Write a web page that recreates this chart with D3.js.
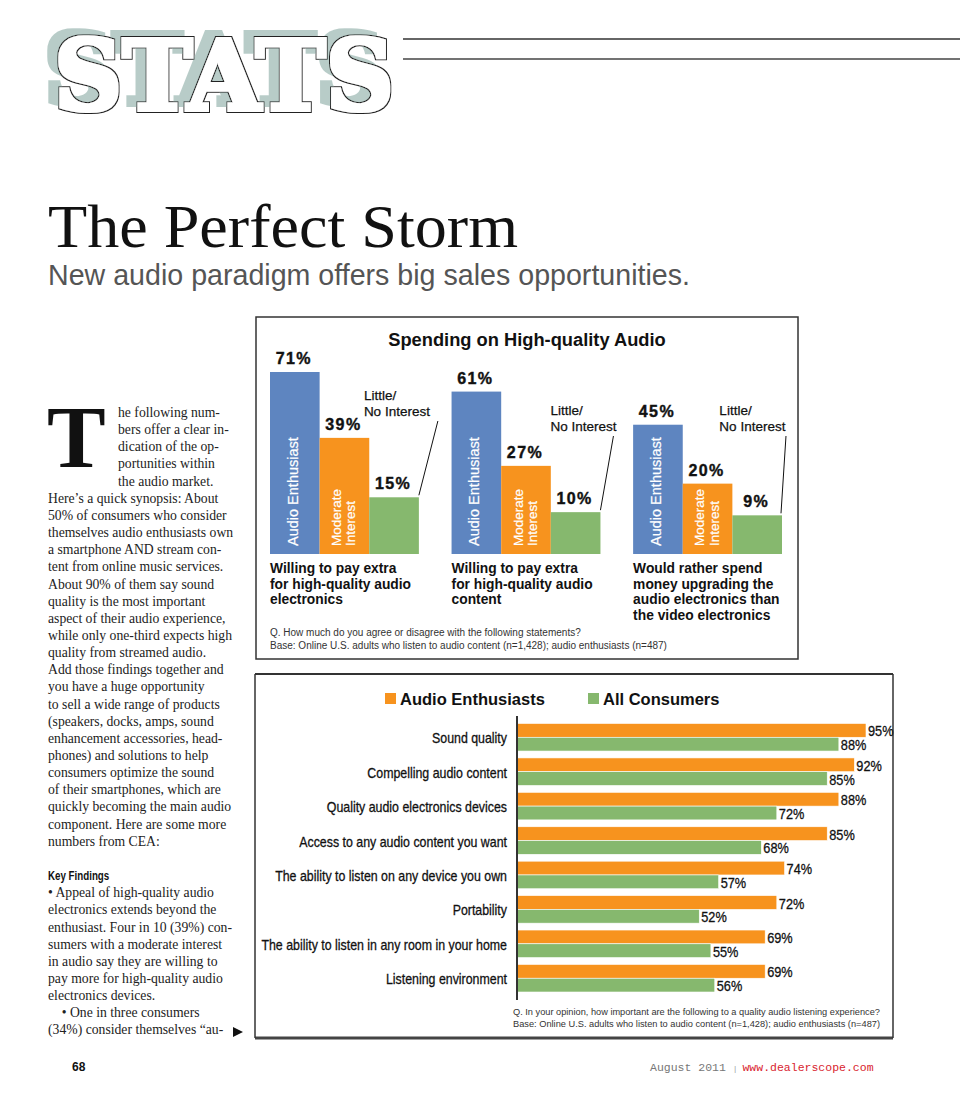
<!DOCTYPE html>
<html><head><meta charset="utf-8">
<script src="https://cdn.jsdelivr.net/npm/d3@7"></script>
<style>
html,body{margin:0;padding:0;background:#fff;}
svg{display:block;}
</style></head>
<body>
<script>
// ---------- DATA ----------
const topGroups = ["Willing to pay extra|for high-quality audio|electronics",
                   "Willing to pay extra|for high-quality audio|content",
                   "Would rather spend|money upgrading the|audio electronics than|the video electronics"];
const topSeries = ["Audio Enthusiast", "Moderate|Interest", "Little/No Interest"];
const enthusiastVals = [71, 61, 45];
const moderateVals = [39, 27, 20];
const littleVals = [15, 10, 9];

const importanceCats = ["Sound quality", "Compelling audio content", "Quality audio electronics devices",
  "Access to any audio content you want", "The ability to listen on any device you own", "Portability",
  "The ability to listen in any room in your home", "Listening environment"];
const audioEnthusiasts = [95, 92, 88, 85, 74, 72, 69, 69];
const allConsumers = [88, 85, 72, 68, 57, 52, 55, 56];
const legendLabels = ["Audio Enthusiasts", "All Consumers"];

const bodyLines = [
 "he following num-", "bers offer a clear in-", "dication of the op-", "portunities within", "the audio market.",
 "Here\u2019s a quick synopsis: About", "50% of consumers who consider", "themselves audio enthusiasts own",
 "a smartphone AND stream con-", "tent from online music services.", "About 90% of them say sound",
 "quality is the most important", "aspect of their audio experience,", "while only one-third expects high",
 "quality from streamed audio.", "Add those findings together and", "you have a huge opportunity",
 "to sell a wide range of products", "(speakers, docks, amps, sound", "enhancement accessories, head-",
 "phones) and solutions to help", "consumers optimize the sound", "of their smartphones, which are",
 "quickly becoming the main audio", "component. Here are some more", "numbers from CEA:", "",
 "Key Findings", "\u2022 Appeal of high-quality audio", "electronics extends beyond the",
 "enthusiast. Four in 10 (39%) con-", "sumers with a moderate interest", "in audio say they are willing to",
 "pay more for high-quality audio", "electronics devices.", "\u2003\u2022 One in three consumers",
 "(34%) consider themselves \u201Cau-"];

// ---------- PAGE ----------
const W = 960, H = 1097;
const svg = d3.select("body").append("svg").attr("width", W).attr("height", H);
svg.append("rect").attr("width", W).attr("height", H).attr("fill", "#fff");

const BLUE = "#5e85c0", ORANGE = "#f7931e", GREEN = "#86b86e";
const SANS = "'Liberation Sans',Arial,sans-serif";
function condense(sel, f) {
  sel.each(function () {
    const l = this.getComputedTextLength();
    d3.select(this).attr("textLength", l * f).attr("lengthAdjust", "spacingAndGlyphs");
  });
  return sel;
}

// Header STATS (single text; shadow + outline built by a filter)
const defs = svg.append("defs");
const flt = defs.append("filter").attr("id", "stats").attr("x", "-10%").attr("y", "-20%")
  .attr("width", "120%").attr("height", "140%");
flt.append("feMorphology").attr("in", "SourceAlpha").attr("operator", "dilate").attr("radius", 3.3).attr("result", "fatB");
flt.append("feMorphology").attr("in", "SourceAlpha").attr("operator", "dilate").attr("radius", 2.1).attr("result", "fatW");
flt.append("feOffset").attr("in", "fatB").attr("dx", -10).attr("dy", -6).attr("result", "shOff");
flt.append("feFlood").attr("flood-color", "#b8ccc8").attr("result", "shCol");
flt.append("feComposite").attr("in", "shCol").attr("in2", "shOff").attr("operator", "in").attr("result", "shadow");
flt.append("feFlood").attr("flood-color", "#222").attr("result", "bCol");
flt.append("feComposite").attr("in", "bCol").attr("in2", "fatB").attr("operator", "in").attr("result", "black");
flt.append("feFlood").attr("flood-color", "#fff").attr("result", "wCol");
flt.append("feComposite").attr("in", "wCol").attr("in2", "fatW").attr("operator", "in").attr("result", "white");
const mg = flt.append("feMerge");
mg.append("feMergeNode").attr("in", "shadow");
mg.append("feMergeNode").attr("in", "black");
mg.append("feMergeNode").attr("in", "white");
svg.append("text").attr("x", 54).attr("y", 110).text("STATS")
  .attr("font-family", "'DejaVu Serif',serif").attr("font-weight", "bold").attr("font-size", 98)
  .attr("textLength", 340).attr("lengthAdjust", "spacingAndGlyphs").attr("fill", "#000")
  .attr("filter", "url(#stats)");
svg.append("line").attr("x1", 403).attr("x2", 960).attr("y1", 39).attr("y2", 39).attr("stroke", "#333").attr("stroke-width", 1.3);
svg.append("line").attr("x1", 403).attr("x2", 960).attr("y1", 59).attr("y2", 59).attr("stroke", "#444").attr("stroke-width", 1.3);

// Title
svg.append("text").attr("x", 48).attr("y", 247).text("The Perfect Storm")
  .attr("font-family", "'Liberation Serif',serif").attr("font-size", 62).attr("fill", "#111")
  .attr("textLength", 470).attr("lengthAdjust", "spacingAndGlyphs");
svg.append("text").attr("x", 48).attr("y", 285).text("New audio paradigm offers big sales opportunities.")
  .attr("font-family", SANS).attr("font-size", 29).attr("fill", "#555")
  .attr("textLength", 642).attr("lengthAdjust", "spacingAndGlyphs");

// Body text
const body = svg.append("g").attr("font-family", "'Liberation Serif',serif").attr("font-size", 13.7).attr("fill", "#222");
body.append("text").attr("x", 47).attr("y", 467).text("T").attr("font-size", 88).attr("font-weight", "bold")
  .attr("fill", "#111");
bodyLines.forEach((t, i) => {
  const y = 417 + i * 17.15;
  const x = i < 5 ? 118 : 48;
  if (t === "Key Findings") {
    body.append("text").attr("x", x).attr("y", y).text(t)
      .attr("font-family", SANS).attr("font-weight", "bold").attr("font-size", 12.5).attr("fill", "#111")
      .call(condense, 0.78);
  } else {
    body.append("text").attr("x", x).attr("y", y).text(t).attr("xml:space", "preserve");
  }
});
svg.append("path").attr("d", "M233,1027 L243,1032 L233,1037 Z").attr("fill", "#111");

// Footer
svg.append("text").attr("x", 72).attr("y", 1071).text("68").attr("font-family", SANS)
  .attr("font-weight", "bold").attr("font-size", 12).attr("fill", "#111");
const foot = svg.append("text").attr("x", 650).attr("y", 1071).attr("font-family", "'Liberation Mono',monospace").attr("font-size", 11.5);
foot.append("tspan").text("August 2011 ").attr("fill", "#777");
foot.append("tspan").text("| ").attr("fill", "#999").attr("font-size", 8);
foot.append("tspan").text("www.dealerscope.com").attr("fill", "#d9232e");

// ---------- TOP CHART ----------
svg.append("rect").attr("x", 256).attr("y", 317).attr("width", 542).attr("height", 342)
  .attr("fill", "none").attr("stroke", "#333").attr("stroke-width", 1.5);
svg.append("text").attr("x", 527).attr("y", 346).attr("text-anchor", "middle").text("Spending on High-quality Audio")
  .attr("font-family", SANS).attr("font-weight", "bold").attr("font-size", 18.3).attr("fill", "#111");

const gx = d3.scaleBand().domain(topGroups).range([270, 782]).paddingInner(0.18);
const sx = d3.scaleBand().domain(topSeries).range([0, gx.bandwidth()]);
const hTop = d3.scalePow().exponent(0.75).domain([0, 71]).range([0, 182]);
const BASE = 554;
const topColors = [BLUE, ORANGE, GREEN];
const seriesVals = [enthusiastVals, moderateVals, littleVals];

topGroups.forEach((g, gi) => {
  const gg = svg.append("g").attr("transform", `translate(${gx(g)},0)`);
  topSeries.forEach((s, si) => {
    const v = seriesVals[si][gi];
    const x = sx(s), w = sx.bandwidth();
    const top = BASE - hTop(v);
    gg.append("rect").attr("x", x).attr("y", top).attr("width", w).attr("height", hTop(v)).attr("fill", topColors[si]);
    gg.append("text").attr("x", x + w / 2 - 1).attr("y", top - 8).attr("text-anchor", "middle").text(v + "%")
      .attr("font-family", SANS).attr("font-weight", "bold").attr("font-size", 16)
      .attr("letter-spacing", 1.4).attr("fill", "#111").attr("stroke", "#111").attr("stroke-width", 0.4);
    if (si < 2) {
      const lines = s.split("|");
      lines.forEach((ln, li) => {
        const bx = x + w / 2 + (lines.length === 1 ? 3 : (li === 0 ? -3.5 : 11));
        gg.append("text").attr("transform", `translate(${bx},${BASE - 8}) rotate(-90)`).text(ln)
          .attr("font-family", SANS).attr("font-size", lines.length === 1 ? 14.5 : 13.5).attr("fill", "#fff")
          .attr("stroke", "#fff").attr("stroke-width", 0.2);
      });
    } else {
      const tx = gi === 2 ? x - 13 : (gi === 0 ? x + w - 55 : x + w - 50);
      const ty = gi === 0 ? 400 : 415;
      const ann = gg.append("text").attr("font-family", SANS).attr("font-size", 13.5).attr("fill", "#111")
        .attr("stroke", "#111").attr("stroke-width", 0.25);
      ann.append("tspan").attr("x", tx).attr("y", ty).text("Little/");
      ann.append("tspan").attr("x", tx).attr("y", ty + 16).text("No Interest");
      const lx1 = gi === 0 ? x + w + 19 : (gi === 1 ? x + w + 13 : x + w + 4);
      gg.append("line").attr("x1", lx1).attr("y1", ty + 21).attr("x2", x + w - (gi === 2 ? 1 : 0)).attr("y2", top - 2)
        .attr("stroke", "#111").attr("stroke-width", 1);
    }
  });
  const lines = g.split("|");
  lines.forEach((ln, li) => {
    gg.append("text").attr("x", 0).attr("y", 573 + li * 15.5).text(ln)
      .attr("font-family", SANS).attr("font-weight", "bold").attr("font-size", 13.8).attr("fill", "#111");
  });
});
const tf = svg.append("g").attr("font-family", SANS).attr("font-size", 10).attr("fill", "#333");
tf.append("text").attr("x", 270).attr("y", 636).text("Q. How much do you agree or disagree with the following statements?");
tf.append("text").attr("x", 270).attr("y", 649).text("Base: Online U.S. adults who listen to audio content (n=1,428); audio enthusiasts (n=487)");

// ---------- BOTTOM CHART ----------
svg.append("line").attr("x1", 255).attr("x2", 893).attr("y1", 674).attr("y2", 674).attr("stroke", "#333").attr("stroke-width", 2);
svg.append("line").attr("x1", 255).attr("x2", 893).attr("y1", 1038).attr("y2", 1038).attr("stroke", "#444").attr("stroke-width", 3);
svg.append("line").attr("x1", 255).attr("x2", 255).attr("y1", 674).attr("y2", 1038).attr("stroke", "#333").attr("stroke-width", 1.5);
svg.append("line").attr("x1", 893).attr("x2", 893).attr("y1", 674).attr("y2", 1038).attr("stroke", "#333").attr("stroke-width", 1.5);

const leg = svg.append("g").attr("font-family", SANS).attr("font-weight", "bold").attr("font-size", 16.5).attr("fill", "#111");
[[385, ORANGE], [588, GREEN]].forEach(([lx, c], i) => {
  leg.append("rect").attr("x", lx).attr("y", 693).attr("width", 11).attr("height", 11).attr("fill", c);
  leg.append("text").attr("x", lx + 15).attr("y", 704.5).text(legendLabels[i]);
});

const yb = d3.scaleBand().domain(importanceCats).range([723.5, 992]).paddingInner(0.2);
const xb = d3.scaleLinear().domain([5, 95]).range([517, 866]);
const half = yb.bandwidth() / 2;
importanceCats.forEach((c, i) => {
  const y0 = yb(c);
  [[audioEnthusiasts[i], ORANGE, 0], [allConsumers[i], GREEN, half]].forEach(([v, col, off]) => {
    svg.append("rect").attr("x", xb(5)).attr("y", y0 + off).attr("width", xb(v) - xb(5)).attr("height", half)
      .attr("fill", col).attr("stroke", "#fff").attr("stroke-width", 0.6);
    svg.append("text").attr("x", xb(v) + 2).attr("y", y0 + off + half / 2 + 6).text(v + "%")
      .attr("font-family", SANS).attr("font-size", 15).attr("fill", "#111")
      .attr("stroke", "#111").attr("stroke-width", 0.3).call(condense, 0.85);
  });
  svg.append("text").attr("x", 507).attr("y", y0 + half + 6).attr("text-anchor", "end").text(c)
    .attr("font-family", SANS).attr("font-size", 15).attr("fill", "#111")
    .attr("stroke", "#111").attr("stroke-width", 0.3).call(condense, 0.825);
});
svg.append("line").attr("x1", 517).attr("x2", 517).attr("y1", 716).attr("y2", 1000).attr("stroke", "#333").attr("stroke-width", 2);

const bf = svg.append("g").attr("font-family", SANS).attr("font-size", 9.3).attr("fill", "#333");
bf.append("text").attr("x", 513).attr("y", 1015).text("Q. In your opinion, how important are the following to a quality audio listening experience?")
  .attr("textLength", 367).attr("lengthAdjust", "spacingAndGlyphs");
bf.append("text").attr("x", 513).attr("y", 1027).text("Base: Online U.S. adults who listen to audio content (n=1,428); audio enthusiasts (n=487)")
  .attr("textLength", 367).attr("lengthAdjust", "spacingAndGlyphs");
</script>
</body></html>
